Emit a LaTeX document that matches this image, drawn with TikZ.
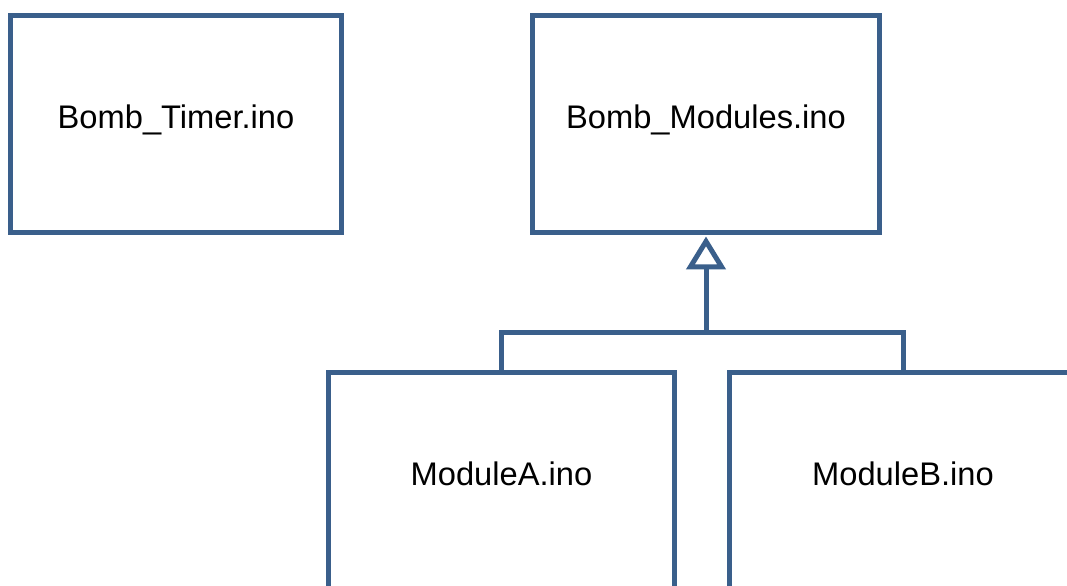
\documentclass[tikz,border=0pt]{standalone}
\usepackage{fontspec}
\setmainfont{Liberation Sans}
\usetikzlibrary{arrows.meta}
\definecolor{umlblue}{RGB}{58,95,139}
\begin{document}
\begin{tikzpicture}[x=0.02cm, y=-0.02cm,
  file/.style={draw=umlblue, line width=0.1cm, rectangle, inner sep=0pt,
    minimum height=4.36cm, text height=13pt, text depth=7.8pt,
    font=\fontsize{18.6}{22}\selectfont},
  link/.style={draw=umlblue, line width=0.1cm}]
\useasboundingbox (0,0) rectangle (1067,585);
\clip (0,0) rectangle (1067,585);
\node [file, minimum width=6.64cm] (timer) at (176,124) {Bomb\_Timer.ino};
\node [file, minimum width=6.96cm] (modules) at (706,124) {Bomb\_Modules.ino};
\node [file, minimum width=6.94cm] (moda) at (501.5,481) {ModuleA.ino};
\node [file, minimum width=6.94cm] (modb) at (903,481) {ModuleB.ino};
\coordinate (join) at (706,332);
\draw [link] (moda.north) |- (join) -| (modb.north);
\draw [link, -{Triangle[open, length=0.66cm, width=0.78cm]}, shorten >=0.02cm] (join) -- (modules.south);
\end{tikzpicture}
\end{document}
